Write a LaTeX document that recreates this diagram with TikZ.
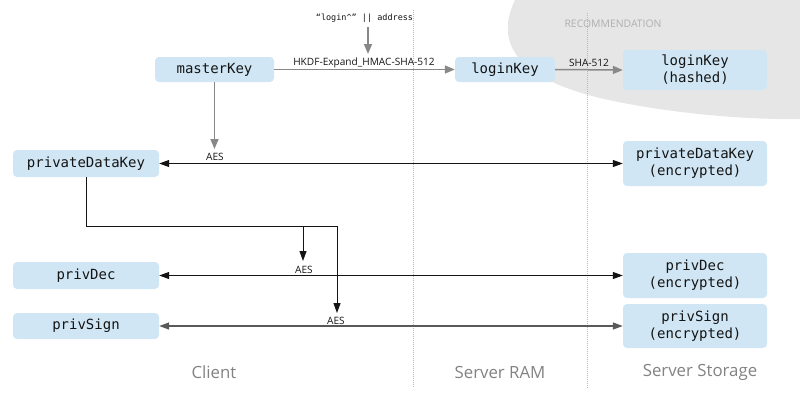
\documentclass[tikz,border=0pt]{standalone}
\usepackage{fontspec}
\newfontfamily\lblfont{Open Sans}
\newfontfamily\keyfont{DejaVu Sans Mono}
\usetikzlibrary{arrows.meta}
\definecolor{boxblue}{RGB}{208,230,244}
\definecolor{recgray}{RGB}{230,230,230}
\definecolor{arrowgray}{RGB}{136,136,136}
\definecolor{dotgray}{RGB}{185,185,185}
\definecolor{captiongray}{RGB}{130,130,130}
\definecolor{rectext}{RGB}{175,175,175}
\definecolor{inkblack}{RGB}{20,20,20}
\begin{document}
\begin{tikzpicture}[x=1pt,y=-1pt,
  keybox/.style={fill=boxblue, rounded corners=4pt, inner sep=0pt, align=center,
    font=\keyfont\fontsize{14}{17}\selectfont, text=inkblack},
  grayarrow/.style={draw=arrowgray, line width=1.5pt, -{Triangle[length=10pt,width=8pt]}},
  blackline/.style={draw=inkblack, line width=1pt},
  bothtip/.style={blackline, {Triangle[length=10pt,width=7pt]}-{Triangle[length=10pt,width=7pt]}},
  onetip/.style={blackline, -{Triangle[length=10pt,width=7pt]}},
  edgelbl/.style={font=\lblfont\fontsize{10.1}{12}\selectfont, text=inkblack, inner sep=0pt},
  caption/.style={font=\lblfont\fontsize{16.8}{20}\selectfont, text=captiongray, inner sep=0pt},
  divider/.style={draw=dotgray, line width=1pt, dash pattern=on 1pt off 1pt}
]
\useasboundingbox (0,0) rectangle (800,400);
% recommendation region
\fill[recgray] (515,0) .. controls (498,35) and (505,75) .. (600,98)
  .. controls (660,112) and (740,120) .. (800,119) -- (800,0) -- cycle;
\node[font=\lblfont\fontsize{10.4}{12}\selectfont, text=rectext, inner sep=0pt] (rec) at (613,24) {RECOMMENDATION};
% dividers
\coordinate (d1t) at (413,10); \coordinate (d1b) at (413,388);
\coordinate (d2t) at (587,13); \coordinate (d2b) at (587,388);
\draw[divider] (d1t) -- (d1b);
\draw[divider] (d2t) -- (d2b);
% boxes
\node[keybox, minimum width=119pt, minimum height=25pt] (mk) at (214.5,69.5) {masterKey};
\node[keybox, minimum width=100pt, minimum height=25pt] (lk) at (505,69.5) {loginKey};
\node[keybox, minimum width=144pt, minimum height=40pt] (lkh) at (695,70) {loginKey\\(hashed)};
\node[keybox, minimum width=146pt, minimum height=27pt] (pdk) at (86,163.5) {privateDataKey};
\node[keybox, minimum width=144pt, minimum height=45pt] (pdke) at (695,163.5) {privateDataKey\\(encrypted)};
\node[keybox, minimum width=146pt, minimum height=27pt] (pd) at (86,275.5) {privDec};
\node[keybox, minimum width=144pt, minimum height=45pt] (pde) at (695,275.5) {privDec\\(encrypted)};
\node[keybox, minimum width=146pt, minimum height=26pt] (ps) at (86,326) {privSign};
\node[keybox, minimum width=144pt, minimum height=44pt] (pse) at (695,326) {privSign\\(encrypted)};
% login address input
\node[font=\keyfont\fontsize{8.5}{10}\selectfont, text=inkblack, inner sep=0pt] (addr) at (364.5,18) {“login\textasciicircum” || address};
\coordinate (as) at (368,27); \coordinate (at) at (368,54);
\draw[grayarrow] (as) -- (at);
% top arrows
\draw[grayarrow] (mk.east) -- (lk.west);
\node[edgelbl] (hkdf) at (364,63) {HKDF-Expand\_HMAC-SHA-512};
\draw[grayarrow] (lk.east) -- (lkh.west);
\node[edgelbl] (sha) at (589,63) {SHA-512};
% master key down
\coordinate (mkt) at (214.5,149);
\draw[grayarrow] (mk.south) -- (mkt);
% AES rows
\draw[bothtip] (pdk.east) -- (pdke.west);
\node[edgelbl] (aes1) at (215,157) {AES};
\draw[bothtip] (pd.east) -- (pde.west);
\node[edgelbl] (aes2) at (304,270) {AES};
\draw[bothtip, draw=black!65, line width=1.4pt] (ps.east) -- (pse.west);
\node[edgelbl] (aes3) at (336,321) {AES};
% branch from privateDataKey
\coordinate (j1) at (303,226); \coordinate (j2) at (337,226);
\coordinate (t1) at (303,261); \coordinate (t2) at (337,313);
\draw[onetip] (pdk.south) |- (j2) -- (t2);
\draw[onetip] (j1) -- (t1);
% captions
\node[caption] (c1) at (214,372) {Client};
\node[caption] (c2) at (500,372) {Server RAM};
\node[caption] (c3) at (700,372) {Server Storage};
\end{tikzpicture}
\end{document}
